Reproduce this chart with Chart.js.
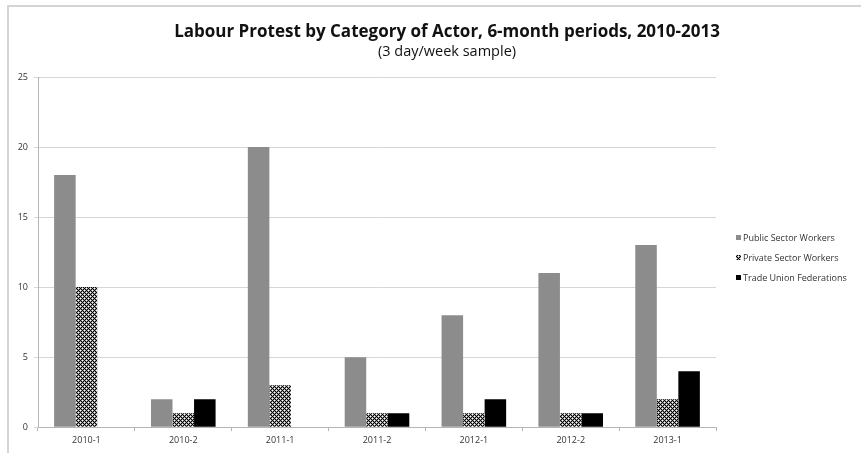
<!DOCTYPE html>
<html>
<head>
<meta charset="utf-8">
<script src="https://cdn.jsdelivr.net/npm/chart.js@4"></script>
<style>
  html, body { margin: 0; padding: 0; background: #fff; }
  .frame {
    position: absolute; left: 7px; top: 5px; right: 0; bottom: 0;
    border-top: 2px solid #d4d4d4; border-left: 2px solid #d4d4d4;
  }
  .wrap { position: absolute; left: 0; top: 0; width: 861px; height: 453px; }
</style>
</head>
<body>
<div class="frame"></div>
<div class="wrap"><canvas id="protestChart" width="861" height="453"></canvas></div>
<script>
const categories = ['2010-1', '2010-2', '2011-1', '2011-2', '2012-1', '2012-2', '2013-1'];
const publicSector = [18, 2, 20, 5, 8, 11, 13];
const privateSector = [10, 1, 3, 1, 1, 1, 2];
const tradeUnions = [0, 2, 0, 1, 2, 1, 4];
const seriesNames = ['Public Sector Workers', 'Private Sector Workers', 'Trade Union Federations'];
const yTicks = [0, 5, 10, 15, 20, 25];

const titleText = 'Labour Protest by Category of Actor, 6-month periods, 2010-2013';
const subtitleText = '(3 day/week sample)';

// crosshatch fill for the private sector bars
function makeHatch() {
    const c = document.createElement('canvas');
    c.width = 4; c.height = 4;
    const g = c.getContext('2d');
    g.fillStyle = '#9a9a9a';
    g.fillRect(0, 0, 4, 4);
    for (let x = 0; x < 4; x++) {
        for (let y = 0; y < 4; y++) {
            if ((x + y) % 4 === 0 || ((x - y) + 4) % 4 === 0) {
                g.fillStyle = '#000';
                g.fillRect(x, y, 1, 1);
            } else if ((x + y) % 4 === 2 && x % 2 === 0) {
                g.fillStyle = '#fff';
                g.fillRect(x, y, 1, 1);
            }
        }
    }
    return g.createPattern(c, 'repeat');
}
const hatch = makeHatch();
const fills = ['#8c8c8c', hatch, '#000'];

const textPlugin = {
    id: 'textPlugin',
    afterDraw(chart) {
        const ctx = chart.ctx;
        ctx.save();
        ctx.fillStyle = '#111';
        ctx.textAlign = 'center';
        ctx.textBaseline = 'alphabetic';
        ctx.font = 'bold 17px "Open Sans"';
        ctx.fillText(titleText, 447, 37);
        ctx.font = '14.5px "Open Sans"';
        ctx.fillText(subtitleText, 447, 56);

        // legend
        ctx.textAlign = 'left';
        ctx.textBaseline = 'middle';
        ctx.font = '9px "Open Sans"';
        seriesNames.forEach((name, i) => {
            const y = 238 + i * 20;
            ctx.fillStyle = fills[i];
            ctx.fillRect(736, y - 3, 5, 5);
            ctx.fillStyle = '#333';
            ctx.fillText(name, 743, y);
        });
        ctx.restore();
    }
};

const ctx = document.getElementById('protestChart').getContext('2d');
const protestChart = new Chart(ctx, {
    type: 'bar',
    data: {
        labels: categories,
        datasets: [
            { label: seriesNames[0], data: publicSector, backgroundColor: fills[0] },
            { label: seriesNames[1], data: privateSector, backgroundColor: fills[1] },
            { label: seriesNames[2], data: tradeUnions, backgroundColor: fills[2] }
        ]
    },
    options: {
        responsive: false,
        animation: false,
        layout: { padding: { top: 77, right: 145, bottom: 3, left: 0 } },
        datasets: { bar: { categoryPercentage: 0.667, barPercentage: 1 } },
        plugins: { legend: { display: false }, tooltip: { enabled: false }, title: { display: false } },
        scales: {
            x: {
                grid: { drawOnChartArea: false, drawTicks: true, tickLength: 4, color: '#b5b5b5', offset: true },
                border: { color: '#b5b5b5' },
                ticks: { color: '#333', font: { family: 'Open Sans', size: 9 }, padding: 4 }
            },
            y: {
                min: 0, max: 25,
                afterFit(scale) { scale.width = 38; },
                afterBuildTicks(scale) { scale.ticks = yTicks.map(v => ({ value: v })); },
                grid: { color: '#d6d6d6', tickLength: 4 },
                border: { color: '#b5b5b5' },
                ticks: { color: '#333', font: { family: 'Open Sans', size: 9 }, padding: 6 }
            }
        }
    },
    plugins: [textPlugin]
});
</script>
</body>
</html>
